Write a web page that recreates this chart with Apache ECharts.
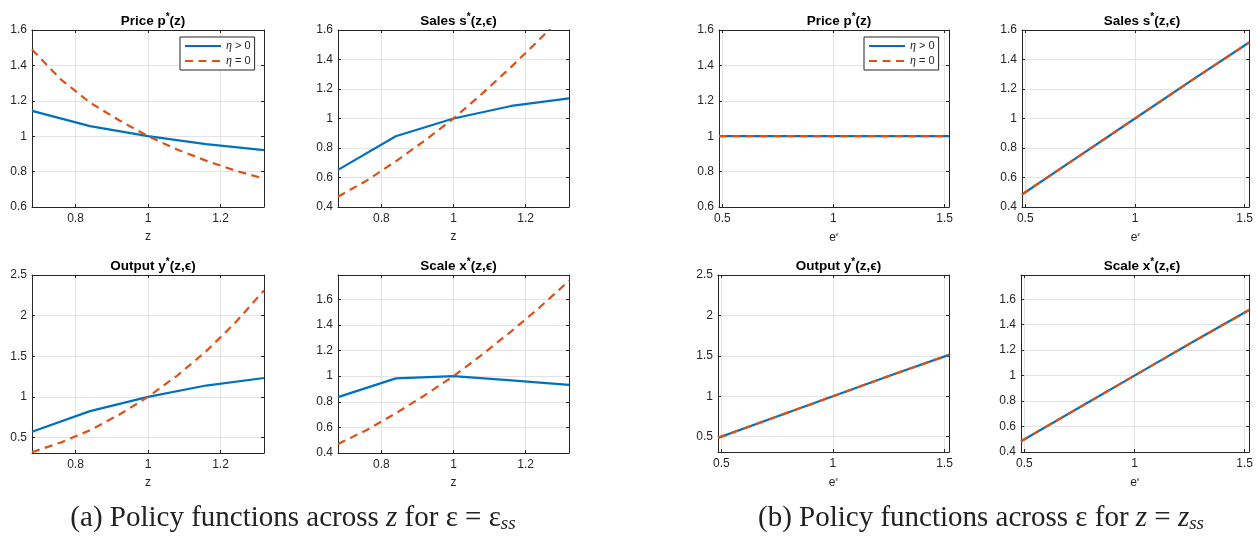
<!DOCTYPE html>
<html>
<head>
<meta charset="utf-8">
<script src="https://cdn.jsdelivr.net/npm/echarts@6/dist/echarts.min.js"></script>
<style>html,body{margin:0;padding:0;background:#fff;}#c{width:1256px;height:536px;}</style>
</head>
<body>
<div id="c"></div>
<script>
// ---------- data ----------
// Panel (a): across z, eps = eps_ss
const zCoarse = [0.68, 0.84, 1.0, 1.16, 1.32];
const zFine = [0.68, 0.76, 0.84, 0.92, 1.0, 1.08, 1.16, 1.24, 1.32];
const priceEtaPosA = [1.143, 1.057, 1.0, 0.955, 0.921];
const salesEtaPosA = [0.652, 0.880, 1.0, 1.085, 1.137];
const outputEtaPosA = [0.572, 0.825, 1.0, 1.14, 1.233];
const scaleEtaPosA = [0.836, 0.983, 1.0, 0.967, 0.932];
const priceEta0A = [1.49, 1.32, 1.19, 1.09, 1.0, 0.925, 0.862, 0.806, 0.76];
const salesEta0A = [0.47, 0.58, 0.71, 0.85, 1.0, 1.17, 1.35, 1.54, 1.74];
const outputEta0A = [0.32, 0.44, 0.59, 0.78, 1.0, 1.26, 1.56, 1.91, 2.31];
const scaleEta0A = [0.47, 0.58, 0.71, 0.85, 1.0, 1.17, 1.35, 1.54, 1.745];
// Panel (b): across e^eps, z = z_ss
const eGrid = [0.485, 0.74, 1.0, 1.26, 1.52];
const priceEtaPosB = [1.0, 1.0, 1.0, 1.0, 1.0];
const priceEta0B = [1.0, 1.0, 1.0, 1.0, 1.0];
const salesEtaPosB = [0.485, 0.74, 1.0, 1.26, 1.515];
const salesEta0B = [0.485, 0.74, 1.0, 1.26, 1.515];
const outputEtaPosB = [0.485, 0.74, 1.0, 1.26, 1.512];
const outputEta0B = [0.485, 0.74, 1.0, 1.26, 1.512];
const scaleEtaPosB = [0.485, 0.74, 1.0, 1.26, 1.515];
const scaleEta0B = [0.485, 0.74, 1.0, 1.26, 1.515];
// tick labels
const zTicks = [0.8, 1, 1.2];
const eTicks = [0.5, 1, 1.5];
const priceTicks = [0.6, 0.8, 1, 1.2, 1.4, 1.6];
const salesTicks = [0.4, 0.6, 0.8, 1, 1.2, 1.4, 1.6];
const outputTicks = [0.5, 1, 1.5, 2, 2.5];
const scaleTicks = [0.4, 0.6, 0.8, 1, 1.2, 1.4, 1.6];
const seriesNames = ['η > 0', 'η = 0'];

// ---------- layout / style ----------
const BLUE = '#0072BD', ORANGE = '#D95319', AX = '#262626', GRIDC = '#e3e3e3';
const SANS = 'Liberation Sans, Arial, Helvetica, sans-serif';
const SERIF = 'Liberation Serif, Times New Roman, serif';

const panels = [
  {box:{left:32, top:30, width:232, height:177}, title:'{b|Price p}{s|*}{b|(z)}', x:zCoarse, xf:zFine, xr:[0.68,1.32], xt:zTicks, xname:'z', yr:[0.6,1.6], yt:priceTicks, a:priceEtaPosA, b:priceEta0A, legend:true},
  {box:{left:338, top:30, width:231, height:177}, title:'{b|Sales s}{s|*}{b|(z,ϵ)}', x:zCoarse, xf:zFine, xr:[0.68,1.32], xt:zTicks, xname:'z', yr:[0.4,1.6], yt:salesTicks, a:salesEtaPosA, b:salesEta0A},
  {box:{left:32, top:275, width:232, height:178}, title:'{b|Output y}{s|*}{b|(z,ϵ)}', x:zCoarse, xf:zFine, xr:[0.68,1.32], xt:zTicks, xname:'z', yr:[0.31,2.5], yt:outputTicks, a:outputEtaPosA, b:outputEta0A},
  {box:{left:338, top:275, width:231, height:178}, title:'{b|Scale x}{s|*}{b|(z,ϵ)}', x:zCoarse, xf:zFine, xr:[0.68,1.32], xt:zTicks, xname:'z', yr:[0.4,1.79], yt:scaleTicks, a:scaleEtaPosA, b:scaleEta0A},
  {box:{left:719, top:30, width:230, height:177}, title:'{b|Price p}{s|*}{b|(z)}', x:eGrid, xf:eGrid, xr:[0.485,1.52], xt:eTicks, xname:'e', yr:[0.6,1.6], yt:priceTicks, a:priceEtaPosB, b:priceEta0B, legend:true},
  {box:{left:1022, top:30, width:230, height:177}, title:'{b|Sales s}{s|*}{b|(z,ϵ)}', x:eGrid, xf:eGrid, xr:[0.485,1.52], xt:eTicks, xname:'e', yr:[0.4,1.6], yt:salesTicks, a:salesEtaPosB, b:salesEta0B},
  {box:{left:718, top:275, width:231, height:177}, title:'{b|Output y}{s|*}{b|(z,ϵ)}', x:eGrid, xf:eGrid, xr:[0.485,1.52], xt:eTicks, xname:'e', yr:[0.31,2.5], yt:outputTicks, a:outputEtaPosB, b:outputEta0B},
  {box:{left:1021, top:275, width:232, height:177}, title:'{b|Scale x}{s|*}{b|(z,ϵ)}', x:eGrid, xf:eGrid, xr:[0.485,1.52], xt:eTicks, xname:'e', yr:[0.4,1.79], yt:scaleTicks, a:scaleEtaPosB, b:scaleEta0B}
];

const grid = [], xAxis = [], yAxis = [], series = [], title = [], legend = [];
const tickLabel = {color: AX, fontFamily: SANS, fontSize: 12};

panels.forEach((p, i) => {
  grid.push(Object.assign({containLabel: false, show: false}, p.box));
  const common = {type: 'value', gridIndex: i, scale: true};
  xAxis.push(Object.assign({}, common, {
    position: 'bottom', min: p.xr[0], max: p.xr[1],
    axisLine: {show: true, onZero: false, lineStyle: {color: AX, width: 1}},
    axisTick: {show: true, inside: true, length: 3, lineStyle: {color: AX}, customValues: p.xt},
    axisLabel: Object.assign({show: true, margin: 6, customValues: p.xt}, tickLabel),
    splitLine: {show: true, lineStyle: {color: GRIDC, width: 1}},
    name: p.xname === 'z' ? 'z' : '{e|e}{s|ϵ}',
    nameLocation: 'middle', nameGap: 24,
    nameTextStyle: {color: AX, fontFamily: SANS, fontSize: 12,
      rich: {e: {color: AX, fontFamily: SANS, fontSize: 12}, s: {color: AX, fontFamily: SANS, fontSize: 6, verticalAlign: 'top', padding:[0,0,7,0]}}}
  }));
  xAxis.push(Object.assign({}, common, {
    position: 'top', min: p.xr[0], max: p.xr[1],
    axisLine: {show: true, onZero: false, lineStyle: {color: AX, width: 1}},
    axisTick: {show: true, inside: true, length: 3, lineStyle: {color: AX}, customValues: p.xt},
    axisLabel: {show: false}, splitLine: {show: false}
  }));
  yAxis.push(Object.assign({}, common, {
    position: 'left', min: p.yr[0], max: p.yr[1],
    axisLine: {show: true, onZero: false, lineStyle: {color: AX, width: 1}},
    axisTick: {show: true, inside: true, length: 3, lineStyle: {color: AX}, customValues: p.yt},
    axisLabel: Object.assign({show: true, margin: 5, customValues: p.yt}, tickLabel),
    splitLine: {show: true, lineStyle: {color: GRIDC, width: 1}}
  }));
  yAxis.push(Object.assign({}, common, {
    position: 'right', min: p.yr[0], max: p.yr[1],
    axisLine: {show: true, onZero: false, lineStyle: {color: AX, width: 1}},
    axisTick: {show: true, inside: true, length: 3, lineStyle: {color: AX}, customValues: p.yt},
    axisLabel: {show: false}, splitLine: {show: false}
  }));
  const xi = 2 * i, yi = 2 * i;
  series.push({
    name: seriesNames[0], type: 'line', xAxisIndex: xi, yAxisIndex: yi,
    data: p.x.map((v, k) => [v, p.a[k]]), symbol: 'none', showSymbol: false,
    lineStyle: {color: BLUE, width: 2.2, type: 'solid'}, itemStyle: {color: BLUE},
    clip: true, animation: false, z: 3
  });
  series.push({
    name: seriesNames[1], type: 'line', xAxisIndex: xi, yAxisIndex: yi,
    data: p.xf.map((v, k) => [v, p.b[k]]), symbol: 'none', showSymbol: false,
    lineStyle: {color: ORANGE, width: 2.2, type: [8, 5.5]}, itemStyle: {color: ORANGE},
    clip: true, animation: false, z: 4
  });
  title.push({
    text: p.title, left: p.box.left + p.box.width / 2, top: p.box.top - 23, textAlign: 'center',
    textStyle: {rich: {
      b: {fontFamily: SANS, fontWeight: 'bold', fontSize: 13.5, color: '#000'},
      s: {fontFamily: SANS, fontWeight: 'bold', fontSize: 10, color: '#000', verticalAlign: 'top', padding: [0, 0, 8, 0]}
    }}
  });
  if (p.legend) {
    legend.push({
      data: seriesNames, orient: 'vertical',
      left: p.box.left + p.box.width - 84 + (i === 4 ? -1 : 0), top: p.box.top + 7,
      itemWidth: 36, itemHeight: 10, itemGap: 3,
      padding: [3, 4, 3, 4],
      backgroundColor: '#fff', borderColor: AX, borderWidth: 1, borderRadius: 0,
      selectedMode: false,
      itemStyle: {opacity: 0},
      formatter: n => '{i|η}{n|' + n.slice(1) + '}',
      textStyle: {rich: {
        i: {fontFamily: SERIF, fontStyle: 'italic', fontSize: 12, color: AX},
        n: {fontFamily: SANS, fontSize: 11, color: AX}
      }}
    });
  }
});

const capRich = {
  n: {fontFamily: SERIF, fontWeight: 'normal', fontSize: 29, color: '#222'},
  i: {fontFamily: SERIF, fontWeight: 'normal', fontSize: 29, fontStyle: 'italic', color: '#222'},
  sub: {fontFamily: SERIF, fontWeight: 'normal', fontSize: 19, fontStyle: 'italic', color: '#222', verticalAlign: 'bottom', padding: [10, 0, 0, 0]}
};
title.push({
  text: '{n|(a) Policy functions across }{i|z}{n| for ε = ε}{sub|ss}',
  left: 288, top: 499, textAlign: 'center',
  textStyle: {fontWeight: 'normal', rich: capRich}
});
title.push({
  text: '{n|(b) Policy functions across ε for }{i|z}{n| = }{i|z}{sub|ss}',
  left: 976, top: 499, textAlign: 'center',
  textStyle: {fontWeight: 'normal', rich: capRich}
});

const chart = echarts.init(document.getElementById('c'), null, {renderer: 'canvas'});
chart.setOption({animation: false, backgroundColor: '#fff', grid, xAxis, yAxis, series, title, legend});
</script>
</body>
</html>
